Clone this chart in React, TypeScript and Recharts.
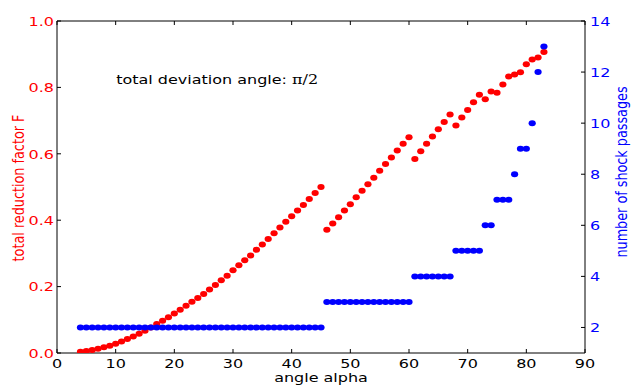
import React from 'react';
import { ScatterChart, Scatter, XAxis, YAxis, ReferenceLine, ReferenceDot } from 'recharts';

const angles = [
  4, 5, 6, 7, 8, 9, 10, 11, 12, 13, 14, 15, 16, 17, 18, 19, 20, 21, 22, 23,
  24, 25, 26, 27, 28, 29, 30, 31, 32, 33, 34, 35, 36, 37, 38, 39, 40, 41, 42, 43,
  44, 45, 46, 47, 48, 49, 50, 51, 52, 53, 54, 55, 56, 57, 58, 59, 60, 61, 62, 63,
  64, 65, 66, 67, 68, 69, 70, 71, 72, 73, 74, 75, 76, 77, 78, 79, 80, 81, 82, 83,
];

const reductionF = [
  0.004, 0.006, 0.009, 0.013, 0.017, 0.022, 0.028, 0.035, 0.042, 0.05,
  0.058, 0.067, 0.077, 0.087, 0.097, 0.108, 0.119, 0.13, 0.142, 0.154,
  0.166, 0.178, 0.191, 0.205, 0.219, 0.233, 0.249, 0.264, 0.279, 0.294,
  0.311, 0.327, 0.343, 0.361, 0.378, 0.395, 0.412, 0.429, 0.446, 0.464,
  0.482, 0.5, 0.371, 0.39, 0.409, 0.429, 0.448, 0.469, 0.489, 0.508,
  0.528, 0.549, 0.569, 0.589, 0.61, 0.63, 0.65, 0.584, 0.608, 0.63,
  0.652, 0.674, 0.696, 0.718, 0.685, 0.709, 0.732, 0.755, 0.778, 0.764,
  0.788, 0.784, 0.809, 0.833, 0.839, 0.846, 0.87, 0.884, 0.89, 0.907,
];

const shockPassages = [
  2, 2, 2, 2, 2, 2, 2, 2, 2, 2, 2, 2, 2, 2, 2, 2, 2, 2, 2, 2,
  2, 2, 2, 2, 2, 2, 2, 2, 2, 2, 2, 2, 2, 2, 2, 2, 2, 2, 2, 2,
  2, 2, 3, 3, 3, 3, 3, 3, 3, 3, 3, 3, 3, 3, 3, 3, 3, 4, 4, 4,
  4, 4, 4, 4, 5, 5, 5, 5, 5, 6, 6, 7, 7, 7, 8, 9, 9, 10, 12, 13,
];

const xTicks = [0, 10, 20, 30, 40, 50, 60, 70, 80, 90];
const fTicks = [0, 0.2, 0.4, 0.6, 0.8, 1.0];
const nTicks = [2, 4, 6, 8, 10, 12, 14];

const xLabel = 'angle alpha';
const fLabel = 'total reduction factor F';
const nLabel = 'number of shock passages';
const noteText = 'total deviation angle: ';
const noteMath = 'π/2';

const redData = angles.map((a, i) => ({ x: a, y: reductionF[i] }));
const blueData = angles.map((a, i) => ({ x: a, y: shockPassages[i] }));

const W = 638;
const H = 385;
const TOP = 21;
const LEFT_W = 57;
const RIGHT_W = 53;
const BOTTOM_H = 32;
const PLOT_BOTTOM = H - BOTTOM_H;
const FONT = '"DejaVu Sans", sans-serif';
const RED = '#ff0000';
const BLUE = '#0000ff';
const TICK = 4;

const SText = ({ x, y, anchor = 'start', fill = '#000', rotate = false, children }: any) => (
  <g transform={`translate(${x},${y}) scale(1,0.8)${rotate ? ' rotate(-90)' : ''}`}>
    <text x={0} y={0} textAnchor={anchor} fill={fill} fontFamily={FONT} fontSize={16}>
      {children}
    </text>
  </g>
);

const fmt1 = (v: number) => v.toFixed(1);

const XTick = (props: any) => {
  const { x, y, payload } = props;
  return (
    <g>
      <line x1={x} y1={y} x2={x} y2={y - TICK} stroke="#000" strokeWidth={1} />
      <line x1={x} y1={TOP} x2={x} y2={TOP + TICK} stroke="#000" strokeWidth={1} />
      <SText x={x} y={y + 14.5} anchor="middle">{String(payload.value)}</SText>
    </g>
  );
};

const LeftTick = (props: any) => {
  const { x, y, payload } = props;
  return (
    <g>
      <line x1={x} y1={y} x2={x + TICK} y2={y} stroke="#000" strokeWidth={1} />
      <SText x={x - 3} y={y + 4.7} anchor="end" fill={RED}>{fmt1(payload.value)}</SText>
    </g>
  );
};

const RightTick = (props: any) => {
  const { x, y, payload } = props;
  return (
    <g>
      <line x1={x} y1={y} x2={x - TICK} y2={y} stroke="#000" strokeWidth={1} />
      <SText x={x + 5} y={y + 4.7} anchor="start" fill={BLUE}>{String(payload.value)}</SText>
    </g>
  );
};

const Dot = (color: string) => (props: any) => {
  const { cx, cy } = props;
  if (cx == null || cy == null) return <g />;
  return <ellipse cx={cx} cy={cy} rx={3.6} ry={3.0} fill={color} stroke="none" />;
};

const RedDot = Dot(RED);
const BlueDot = Dot(BLUE);

const Note = (props: any) => {
  const { cx, cy } = props;
  return (
    <g transform={`translate(${cx},${cy}) scale(1,0.8)`}>
      <text x={0} y={0} fill="#000" fontFamily={FONT} fontSize={16}>
        {noteText}
        <tspan fontFamily='"DejaVu Serif", "Liberation Serif", serif' fontSize={16}>{noteMath}</tspan>
      </text>
    </g>
  );
};

export default function App() {
  return (
    <div style={{ position: 'absolute', left: 0, top: 0, width: W, height: H, background: '#fff' }}>
      <ScatterChart
        width={W}
        height={H}
        margin={{ top: TOP, right: 0, bottom: 0, left: 0 }}
        style={{ background: '#fff' }}
      >
        <XAxis
          type="number"
          dataKey="x"
          xAxisId="b"
          domain={[0, 90]}
          ticks={xTicks}
          height={BOTTOM_H}
          tickSize={0}
          tickMargin={0}
          tickLine={false}
          axisLine={{ stroke: '#000', strokeWidth: 1 }}
          tick={<XTick />}
          interval={0}
          allowDataOverflow
          label={{
            content: () => <SText x={321} y={381.5} anchor="middle">{xLabel}</SText>,
          }}
        />
        <YAxis
          type="number"
          dataKey="y"
          yAxisId="f"
          orientation="left"
          domain={[0, 1]}
          ticks={fTicks}
          width={LEFT_W}
          tickSize={0}
          tickMargin={0}
          tickLine={false}
          axisLine={{ stroke: '#000', strokeWidth: 1 }}
          tick={<LeftTick />}
          interval={0}
          allowDataOverflow
          label={{
            content: () => <SText x={24} y={188} anchor="middle" fill={RED} rotate>{fLabel}</SText>,
          }}
        />
        <YAxis
          type="number"
          dataKey="y"
          yAxisId="n"
          orientation="right"
          domain={[1, 14]}
          ticks={nTicks}
          width={RIGHT_W}
          tickSize={0}
          tickMargin={0}
          tickLine={false}
          axisLine={{ stroke: '#000', strokeWidth: 1 }}
          tick={<RightTick />}
          interval={0}
          allowDataOverflow
          label={{
            content: () => <SText x={627} y={172} anchor="middle" fill={BLUE} rotate>{nLabel}</SText>,
          }}
        />
        <ReferenceLine xAxisId="b" yAxisId="f" y={1} stroke="#000" strokeWidth={1} />
        <Scatter
          name="F"
          data={redData}
          xAxisId="b"
          yAxisId="f"
          fill={RED}
          shape={<RedDot />}
          isAnimationActive={false}
        />
        <Scatter
          name="shock passages"
          data={blueData}
          xAxisId="b"
          yAxisId="n"
          fill={BLUE}
          shape={<BlueDot />}
          isAnimationActive={false}
        />
        <ReferenceDot
          xAxisId="b"
          yAxisId="f"
          x={10.1}
          y={0.81}
          r={0}
          shape={<Note />}
          ifOverflow="visible"
        />
      </ScatterChart>
    </div>
  );
}
